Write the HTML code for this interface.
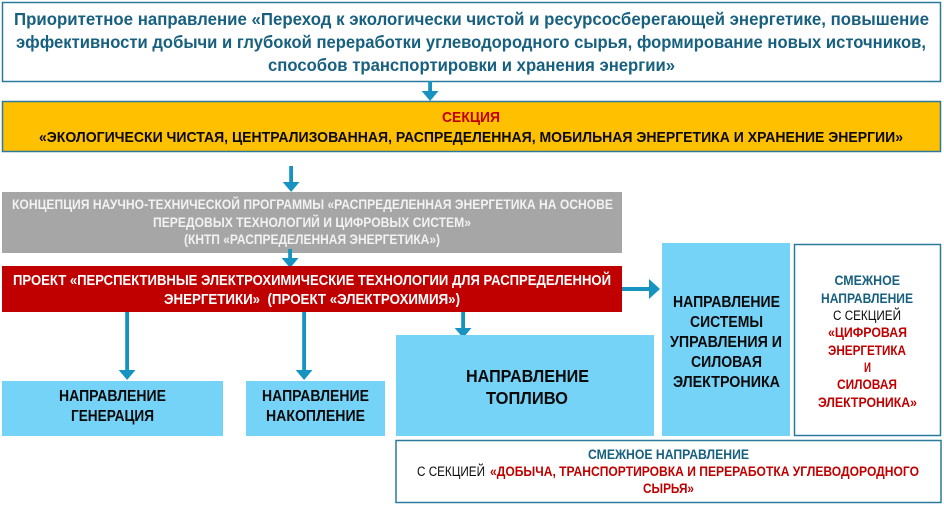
<!DOCTYPE html>
<html lang="ru"><head><meta charset="utf-8"><title>Диаграмма</title>
<style>
html,body{margin:0;padding:0;background:#fff;width:944px;height:506px;overflow:hidden}
svg{display:block}
text{font-family:"Liberation Sans",sans-serif;font-weight:700}
.n{font-weight:400}
.pre{white-space:pre}
.teal{fill:#17607f}.blk{fill:#0a0a0a}.red{fill:#c00000}.wht{fill:#fff}.gw{fill:#f2f2f2}
</style></head><body>
<svg width="944" height="506" viewBox="0 0 944 506" xmlns="http://www.w3.org/2000/svg">
<rect width="944" height="506" fill="#fff"/>
<rect x="2.5" y="2.5" width="938" height="79" fill="#fff" stroke="#2b7a9c" stroke-width="1.5"/>
<rect x="2.5" y="101.5" width="938" height="50" fill="#ffc000" stroke="#2b7a9c" stroke-width="1.5"/>
<rect x="2" y="192" width="620" height="61" fill="#a6a6a6"/>

<g fill="#1793c1">
<path d="M428.2 81h3.8v10h6.5l-8.4 10-8.4-10h6.5z"/>
<path d="M289.2 166h3.8v16h6.5l-8.4 10-8.4-10h6.5z"/>
<path d="M288.2 249h3.8v9h6.5l-8.4 10-8.4-10h6.5z"/>
</g>
<rect x="2" y="266" width="620" height="46" fill="#c00000"/>
<g fill="#1793c1">
<path d="M125.2 312h3.8v58h6.5l-8.4 10-8.4-10h6.5z"/>
<path d="M302.2 312h3.8v58h6.5l-8.4 10-8.4-10h6.5z"/>
<path d="M461.2 312h3.8v16h6.5l-8.4 10-8.4-10h6.5z"/>
<path d="M622 287h27v-8l11 10-11 10v-8h-27z"/>
</g>
<g fill="#75d3f8">
<rect x="2" y="381" width="221" height="55"/>
<rect x="246" y="381" width="139" height="55"/>
<rect x="396" y="335" width="258" height="101"/>
<rect x="662" y="243" width="128" height="193"/>
</g>
<rect x="794.5" y="244.5" width="146" height="191" fill="#fff" stroke="#2b7a9c" stroke-width="1.5"/>
<rect x="396" y="440.5" width="545" height="62" fill="#fff" stroke="#2b7a9c" stroke-width="1.5"/>

<g class="teal" font-size="17.5">
<text class="teal" x="14" y="25" textLength="915" lengthAdjust="spacingAndGlyphs">Приоритетное направление «Переход к экологически чистой и ресурсосберегающей энергетике, повышение</text>
<text class="teal" x="16" y="48" textLength="910" lengthAdjust="spacingAndGlyphs">эффективности добычи и глубокой переработки углеводородного сырья, формирование новых источников,</text>
<text class="teal" x="268" y="71" textLength="407" lengthAdjust="spacingAndGlyphs">способов транспортировки и хранения энергии»</text>
</g>
<text class="red" font-size="15" x="442" y="122" textLength="58" lengthAdjust="spacingAndGlyphs">СЕКЦИЯ</text>
<text class="blk" font-size="15" x="39" y="142" textLength="864" lengthAdjust="spacingAndGlyphs">«ЭКОЛОГИЧЕСКИ ЧИСТАЯ, ЦЕНТРАЛИЗОВАННАЯ, РАСПРЕДЕЛЕННАЯ, МОБИЛЬНАЯ ЭНЕРГЕТИКА И ХРАНЕНИЕ ЭНЕРГИИ»</text>

<g font-size="13.5">
<text class="gw" x="12" y="209" textLength="601" lengthAdjust="spacingAndGlyphs">КОНЦЕПЦИЯ НАУЧНО-ТЕХНИЧЕСКОЙ ПРОГРАММЫ «РАСПРЕДЕЛЕННАЯ ЭНЕРГЕТИКА НА ОСНОВЕ</text>
<text class="gw" x="153" y="227" textLength="318" lengthAdjust="spacingAndGlyphs">ПЕРЕДОВЫХ ТЕХНОЛОГИЙ И ЦИФРОВЫХ СИСТЕМ»</text>
<text class="gw" x="184" y="244" textLength="256" lengthAdjust="spacingAndGlyphs">(КНТП «РАСПРЕДЕЛЕННАЯ ЭНЕРГЕТИКА»)</text>
</g>
<g font-size="14.5">
<text class="wht" x="13" y="285" textLength="598" lengthAdjust="spacingAndGlyphs">ПРОЕКТ «ПЕРСПЕКТИВНЫЕ ЭЛЕКТРОХИМИЧЕСКИЕ ТЕХНОЛОГИИ ДЛЯ РАСПРЕДЕЛЕННОЙ</text>
<text class="wht pre" x="164" y="304" textLength="296" lengthAdjust="spacingAndGlyphs">ЭНЕРГЕТИКИ»  (ПРОЕКТ «ЭЛЕКТРОХИМИЯ»)</text>
</g>
<g font-size="15.5">
<text class="blk" x="59" y="401" textLength="107" lengthAdjust="spacingAndGlyphs">НАПРАВЛЕНИЕ</text>
<text class="blk" x="71" y="421" textLength="83" lengthAdjust="spacingAndGlyphs">ГЕНЕРАЦИЯ</text>
<text class="blk" x="262" y="401" textLength="107" lengthAdjust="spacingAndGlyphs">НАПРАВЛЕНИЕ</text>
<text class="blk" x="266" y="421" textLength="99" lengthAdjust="spacingAndGlyphs">НАКОПЛЕНИЕ</text>
<text class="blk" x="673" y="307" textLength="107" lengthAdjust="spacingAndGlyphs">НАПРАВЛЕНИЕ</text>
<text class="blk" x="690" y="327" textLength="73" lengthAdjust="spacingAndGlyphs">СИСТЕМЫ</text>
<text class="blk" x="670" y="347" textLength="112" lengthAdjust="spacingAndGlyphs">УПРАВЛЕНИЯ И</text>
<text class="blk" x="691" y="367" textLength="71" lengthAdjust="spacingAndGlyphs">СИЛОВАЯ</text>
<text class="blk" x="673" y="387" textLength="107" lengthAdjust="spacingAndGlyphs">ЭЛЕКТРОНИКА</text>
</g>
<g font-size="17.5">
<text class="blk" x="466" y="382" textLength="123" lengthAdjust="spacingAndGlyphs">НАПРАВЛЕНИЕ</text>
<text class="blk" x="486" y="404" textLength="82" lengthAdjust="spacingAndGlyphs">ТОПЛИВО</text>
</g>
<g font-size="13.5">
<text class="teal" x="834.5" y="285" textLength="65.5" lengthAdjust="spacingAndGlyphs">СМЕЖНОЕ</text>
<text class="teal" x="821" y="303" textLength="92" lengthAdjust="spacingAndGlyphs">НАПРАВЛЕНИЕ</text>
<text class="blk n" x="833" y="320" textLength="68" lengthAdjust="spacingAndGlyphs">С СЕКЦИЕЙ</text>
<text class="red" x="828" y="337" textLength="79" lengthAdjust="spacingAndGlyphs">«ЦИФРОВАЯ</text>
<text class="red" x="828" y="355" textLength="78" lengthAdjust="spacingAndGlyphs">ЭНЕРГЕТИКА</text>
<text class="red" x="864" y="372" textLength="7" lengthAdjust="spacingAndGlyphs">И</text>
<text class="red" x="837" y="389" textLength="60" lengthAdjust="spacingAndGlyphs">СИЛОВАЯ</text>
<text class="red" x="818" y="407" textLength="99" lengthAdjust="spacingAndGlyphs">ЭЛЕКТРОНИКА»</text>
<text class="teal" x="588" y="459" textLength="161" lengthAdjust="spacingAndGlyphs">СМЕЖНОЕ НАПРАВЛЕНИЕ</text>
<text class="blk n" x="417" y="476" textLength="68" lengthAdjust="spacingAndGlyphs">С СЕКЦИЕЙ</text>
<text class="red" x="490" y="476" textLength="429" lengthAdjust="spacingAndGlyphs">«ДОБЫЧА, ТРАНСПОРТИРОВКА И ПЕРЕРАБОТКА УГЛЕВОДОРОДНОГО</text>
<text class="red" x="643" y="493" textLength="51" lengthAdjust="spacingAndGlyphs">СЫРЬЯ»</text>
</g>
</svg>
</body></html>
